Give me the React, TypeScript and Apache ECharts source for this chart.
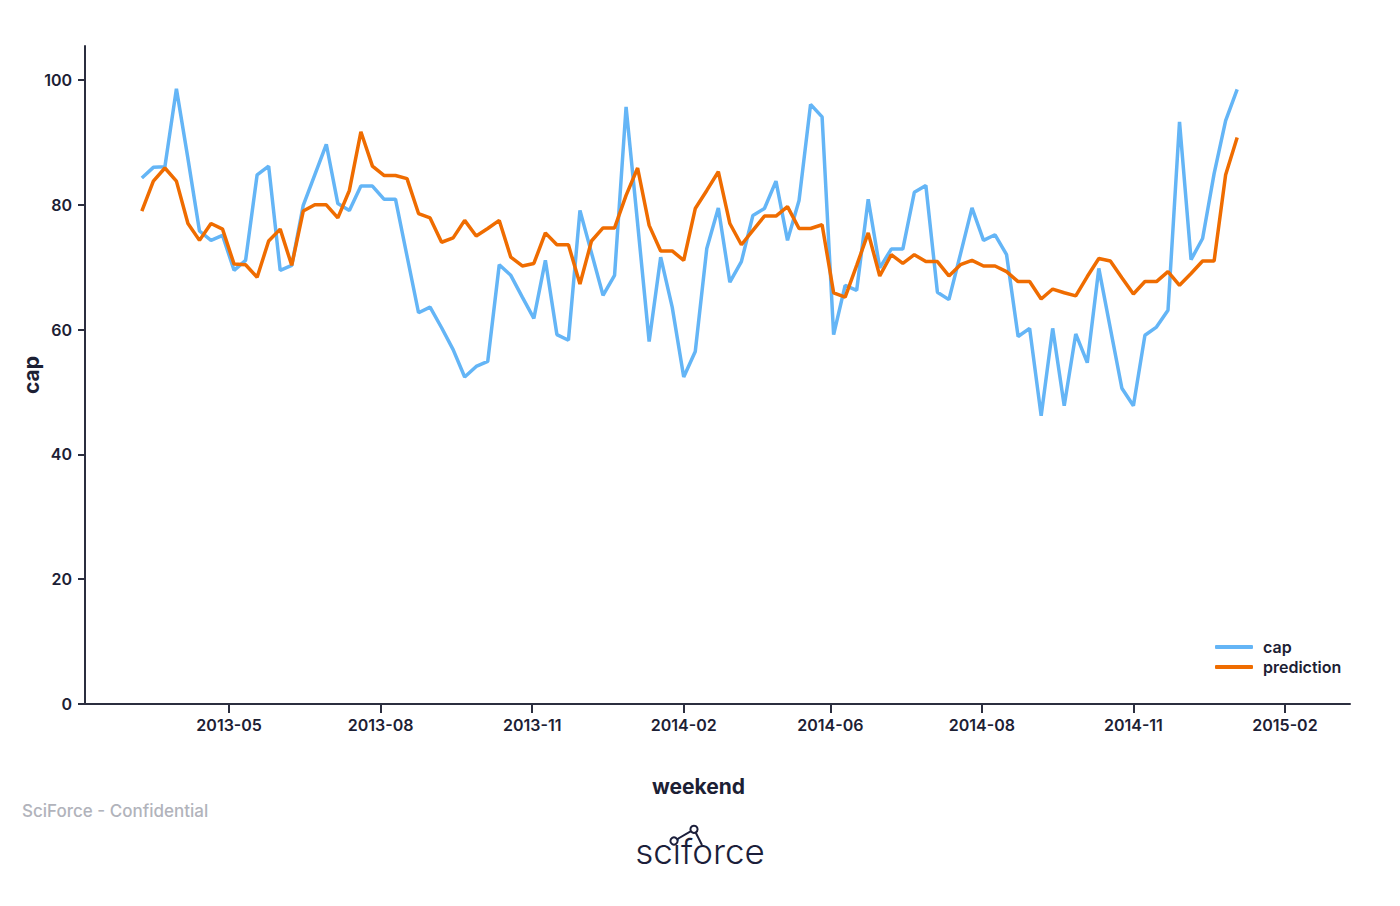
import React, { useEffect, useRef } from "react";
import * as echarts from "echarts";

const weeks = [
  "2013-03-09", "2013-03-16", "2013-03-23", "2013-03-30",
  "2013-04-06", "2013-04-13", "2013-04-20", "2013-04-27",
  "2013-05-04", "2013-05-11", "2013-05-18", "2013-05-25",
  "2013-06-01", "2013-06-08", "2013-06-15", "2013-06-22", "2013-06-29",
  "2013-07-06", "2013-07-13", "2013-07-20", "2013-07-27",
  "2013-08-03", "2013-08-10", "2013-08-17", "2013-08-24", "2013-08-31",
  "2013-09-07", "2013-09-14", "2013-09-21", "2013-09-28",
  "2013-10-05", "2013-10-12", "2013-10-19", "2013-10-26",
  "2013-11-02", "2013-11-09", "2013-11-16", "2013-11-23", "2013-11-30",
  "2013-12-07", "2013-12-14", "2013-12-21", "2013-12-28",
  "2014-01-04", "2014-01-11", "2014-01-18", "2014-01-25",
  "2014-02-01", "2014-02-08", "2014-02-15", "2014-02-22",
  "2014-03-01", "2014-03-08", "2014-03-15", "2014-03-22", "2014-03-29",
  "2014-04-05", "2014-04-12", "2014-04-19", "2014-04-26",
  "2014-05-03", "2014-05-10", "2014-05-17", "2014-05-24", "2014-05-31",
  "2014-06-07", "2014-06-14", "2014-06-21", "2014-06-28",
  "2014-07-05", "2014-07-12", "2014-07-19", "2014-07-26",
  "2014-08-02", "2014-08-09", "2014-08-16", "2014-08-23", "2014-08-30",
  "2014-09-06", "2014-09-13", "2014-09-20", "2014-09-27",
  "2014-10-04", "2014-10-11", "2014-10-18", "2014-10-25",
  "2014-11-01", "2014-11-08", "2014-11-15", "2014-11-22", "2014-11-29",
  "2014-12-06", "2014-12-13", "2014-12-20", "2014-12-27",
  "2015-01-03",
];

const capValues = [
  84.3, 86.0, 86.1, 98.6, 87.4, 75.8, 74.3, 75.1, 69.5, 71.1,
  84.8, 86.2, 69.5, 70.3, 79.9, 84.8, 89.7, 80.2, 79.1, 83.0,
  83.0, 80.9, 80.9, 71.8, 62.7, 63.6, 60.3, 56.8, 52.4, 54.1,
  54.9, 70.4, 68.7, 65.2, 61.8, 71.1, 59.2, 58.3, 79.1, 72.3,
  65.5, 68.7, 95.7, 77.0, 58.1, 71.6, 63.6, 52.4, 56.5, 73.0,
  79.5, 67.6, 70.9, 78.3, 79.4, 83.8, 74.3, 80.7, 96.1, 94.1,
  59.2, 67.1, 66.3, 80.9, 69.9, 72.9, 72.9, 82.0, 83.1, 66.0,
  64.8, 72.1, 79.5, 74.3, 75.2, 72.0, 58.9, 60.2, 46.2, 60.2,
  47.8, 59.3, 54.7, 69.8, 60.2, 50.6, 47.8, 59.1, 60.4, 63.1,
  93.3, 71.2, 74.6, 85.0, 93.5, 98.5,
];

const predictionValues = [
  79.0, 83.8, 85.9, 83.8, 77.0, 74.3, 77.0, 76.1, 70.5, 70.4,
  68.4, 74.2, 76.1, 70.3, 79.0, 80.0, 80.0, 77.9, 82.3, 91.7,
  86.2, 84.7, 84.7, 84.2, 78.6, 77.9, 74.0, 74.7, 77.5, 75.0,
  76.2, 77.5, 71.6, 70.2, 70.6, 75.5, 73.6, 73.6, 67.3, 74.2,
  76.3, 76.3, 81.5, 85.9, 76.7, 72.6, 72.6, 71.1, 79.4, 82.3,
  85.3, 77.0, 73.6, 75.9, 78.2, 78.2, 79.7, 76.2, 76.2, 76.8,
  65.9, 65.2, 70.3, 75.5, 68.6, 72.0, 70.6, 72.0, 70.9, 70.9,
  68.6, 70.4, 71.1, 70.2, 70.2, 69.3, 67.7, 67.7, 64.9, 66.5,
  65.9, 65.4, 68.5, 71.4, 71.0, 68.3, 65.7, 67.7, 67.7, 69.3,
  67.1, 69.0, 71.0, 71.0, 84.8, 90.8,
];

const xTickDates = [
  "2013-05-01", "2013-08-01", "2013-11-01", "2014-02-01",
  "2014-05-01", "2014-08-01", "2014-11-01", "2015-02-01",
];
const xTickLabels = [
  "2013-05", "2013-08", "2013-11", "2014-02",
  "2014-06", "2014-08", "2014-11", "2015-02",
];
const yTicks = [0, 20, 40, 60, 80, 100];

const X_MIN = "2013-02-02T12:00:00Z";
const X_MAX = "2015-03-12T12:00:00Z";

const FONT = "Inter, 'Noto Sans', sans-serif";
const INK = "#1c2034";
const AXIS = "#2b2e3f";

export default function App() {
  const ref = useRef<HTMLDivElement>(null);

  useEffect(() => {
    if (!ref.current) return;
    const chart = echarts.init(ref.current, null, { renderer: "svg" });
    const ts = (d: string) => new Date(d).getTime();
    const tickTimes = xTickDates.map(ts);
    const capData = weeks.map((w, i) => [ts(w), capValues[i]]);
    const predData = weeks.map((w, i) => [ts(w), predictionValues[i]]);

    chart.setOption({
      animation: false,
      backgroundColor: "#ffffff",
      textStyle: { fontFamily: FONT },
      grid: { left: 85, right: 50, top: 46, bottom: 202, containLabel: false },
      legend: {
        data: ["cap", "prediction"],
        orient: "vertical",
        left: 1210,
        top: 634,
        itemWidth: 38,
        itemHeight: 4,
        itemGap: 4,
        icon: "roundRect",
        textStyle: {
          fontFamily: FONT,
          fontSize: 16,
          fontWeight: 600,
          color: INK,
          padding: [0, 0, 0, 5],
        },
      },
      xAxis: {
        type: "value",
        min: ts(X_MIN),
        max: ts(X_MAX),
        name: "weekend",
        nameLocation: "middle",
        nameGap: 72,
        nameMoveOverlap: false,
        nameTextStyle: {
          fontFamily: FONT,
          fontSize: 21,
          fontWeight: 700,
          color: INK,
          padding: [0, 38, 0, 0],
        },
        axisLine: { show: true, onZero: false, lineStyle: { color: AXIS, width: 2 } },
        axisTick: {
          show: true,
          length: 9,
          lineStyle: { color: AXIS, width: 2 },
          customValues: tickTimes,
        },
        axisLabel: {
          customValues: tickTimes,
          margin: 13,
          fontFamily: FONT,
          fontSize: 16,
          fontWeight: 600,
          color: INK,
          formatter: (v: number) => {
            let best = -1;
            let bd = Infinity;
            tickTimes.forEach((t, i) => {
              const d = Math.abs(t - v);
              if (d < bd) {
                bd = d;
                best = i;
              }
            });
            return best >= 0 && bd < 86400000 ? xTickLabels[best] : "";
          },
        },
        splitLine: { show: false },
      },
      yAxis: {
        type: "value",
        min: 0,
        max: 105.45,
        name: "cap",
        nameLocation: "middle",
        nameGap: 43,
        nameMoveOverlap: false,
        nameTextStyle: {
          fontFamily: FONT,
          fontSize: 21,
          fontWeight: 700,
          color: INK,
        },
        axisLine: { show: true, lineStyle: { color: AXIS, width: 2 } },
        axisTick: {
          show: true,
          length: 7,
          lineStyle: { color: AXIS, width: 2 },
          customValues: yTicks,
        },
        axisLabel: {
          customValues: yTicks,
          margin: 13,
          fontFamily: FONT,
          fontSize: 16,
          fontWeight: 600,
          color: INK,
        },
        splitLine: { show: false },
      },
      series: [
        {
          name: "cap",
          type: "line",
          data: capData,
          symbol: "none",
          showSymbol: false,
          lineStyle: { color: "#64b5f6", width: 3.5 },
          itemStyle: { color: "#64b5f6" },
          z: 2,
        },
        {
          name: "prediction",
          type: "line",
          data: predData,
          symbol: "none",
          showSymbol: false,
          lineStyle: { color: "#ef6c00", width: 3.5 },
          itemStyle: { color: "#ef6c00" },
          z: 3,
        },
      ],
      graphic: [
        {
          type: "text",
          left: 22,
          top: 802,
          style: {
            text: "SciForce - Confidential",
            fill: "#b1b3bb",
            fontFamily: FONT,
            fontSize: 17,
            fontWeight: 500,
          },
        },
        {
          type: "text",
          x: 700,
          y: 851,
          style: {
            text: "sciforce",
            fill: "#1b1e3a",
            fontFamily: FONT,
            fontSize: 35,
            fontWeight: 300,
            align: "center",
            verticalAlign: "middle",
          },
          z: 1,
        },
        {
          type: "line",
          shape: { x1: 674, y1: 841, x2: 694, y2: 829.3 },
          style: { stroke: "#1b1e3a", lineWidth: 2 },
          z: 2,
        },
        {
          type: "line",
          shape: { x1: 694, y1: 829.3, x2: 702, y2: 845 },
          style: { stroke: "#1b1e3a", lineWidth: 2 },
          z: 2,
        },
        {
          type: "circle",
          shape: { cx: 674, cy: 841, r: 3.6 },
          style: { fill: "#ffffff", stroke: "#1b1e3a", lineWidth: 2 },
          z: 3,
        },
        {
          type: "circle",
          shape: { cx: 694, cy: 829.3, r: 3.6 },
          style: { fill: "#ffffff", stroke: "#1b1e3a", lineWidth: 2 },
          z: 3,
        },
      ],
    });

    return () => chart.dispose();
  }, []);

  return (
    <div
      ref={ref}
      style={{ position: "fixed", left: 0, top: 0, width: 1400, height: 906, background: "#fff" }}
    />
  );
}
